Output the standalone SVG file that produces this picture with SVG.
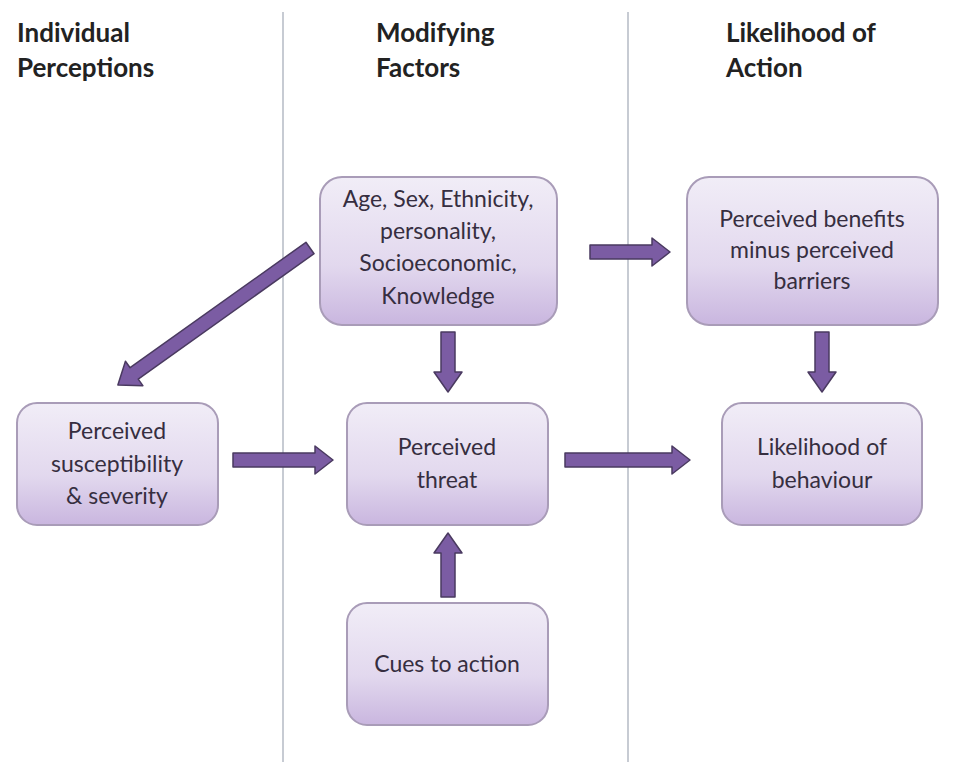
<svg xmlns="http://www.w3.org/2000/svg" width="955" height="762" viewBox="0 0 955 762">
<defs>
<linearGradient id="bg" x1="0" y1="0" x2="0" y2="1">
<stop offset="0" stop-color="#f1edf7"/>
<stop offset="0.6" stop-color="#e2d8ee"/>
<stop offset="1" stop-color="#c9b6df"/>
</linearGradient>
</defs>
<style>
.box{fill:url(#bg);stroke:#a99cb8;stroke-width:2}
.t{font-family:Lato,"Open Sans",sans-serif;font-size:23px;fill:#362e40;text-anchor:middle}
.h{font-family:Lato,"Open Sans",sans-serif;font-size:26px;font-weight:bold;fill:#222}
.ar{fill:#7b5ca3;stroke:#4a3a60;stroke-width:1.5;stroke-linejoin:round}
.ln{stroke:#b4bac4;stroke-width:1.5}
</style>
<rect width="955" height="762" fill="#ffffff"/>
<g id="lanes">
<line class="ln" x1="283" y1="12" x2="283" y2="762"/>
<line class="ln" x1="628" y1="12" x2="628" y2="762"/>
</g>
<g id="headers">
<text class="h" x="17" y="42">Individual</text>
<text class="h" x="17" y="77">Perceptions</text>
<text class="h" x="376" y="42">Modifying</text>
<text class="h" x="376" y="77">Factors</text>
<text class="h" x="726" y="42">Likelihood of</text>
<text class="h" x="726" y="77">Action</text>
</g>
<g id="connectors">
<polygon class="ar" transform="translate(310,248) rotate(144.5)" points="0,-7 216,-7 216,-15 236,0 216,15 216,7 0,7"/>
<polygon class="ar" points="590,245 652,245 652,238 670,252 652,266 652,259 590,259"/>
<polygon class="ar" points="441,332 455,332 455,372 462,372 448,392 434,372 441,372"/>
<polygon class="ar" points="815,332 829,332 829,372 836,372 822,392 808,372 815,372"/>
<polygon class="ar" points="233,453 315,453 315,446 333,460 315,474 315,467 233,467"/>
<polygon class="ar" points="565,453 672,453 672,446 690,460 672,474 672,467 565,467"/>
<polygon class="ar" points="441,597 455,597 455,553 462,553 448,533 434,553 441,553"/>
</g>
<g id="n-factors">
<rect class="box" x="320" y="177" width="237" height="148" rx="22"/>
<text class="t" x="438" y="207">Age, Sex, Ethnicity,</text>
<text class="t" x="438" y="239">personality,</text>
<text class="t" x="438" y="271">Socioeconomic,</text>
<text class="t" x="438" y="304">Knowledge</text>
</g>
<g id="n-benefits">
<rect class="box" x="687" y="177" width="251" height="148" rx="22"/>
<text class="t" x="812" y="227">Perceived benefits</text>
<text class="t" x="812" y="258">minus perceived</text>
<text class="t" x="812" y="289">barriers</text>
</g>
<g id="n-susceptibility">
<rect class="box" x="17" y="403" width="201" height="122" rx="20"/>
<text class="t" x="117" y="439">Perceived</text>
<text class="t" x="117" y="472">susceptibility</text>
<text class="t" x="117" y="504">&amp; severity</text>
</g>
<g id="n-threat">
<rect class="box" x="347" y="403" width="201" height="122" rx="20"/>
<text class="t" x="447" y="455">Perceived</text>
<text class="t" x="447" y="488">threat</text>
</g>
<g id="n-likelihood">
<rect class="box" x="722" y="403" width="200" height="122" rx="20"/>
<text class="t" x="822" y="455">Likelihood of</text>
<text class="t" x="822" y="488">behaviour</text>
</g>
<g id="n-cues">
<rect class="box" x="347" y="603" width="201" height="122" rx="20"/>
<text class="t" x="447" y="672">Cues to action</text>
</g>
</svg>
